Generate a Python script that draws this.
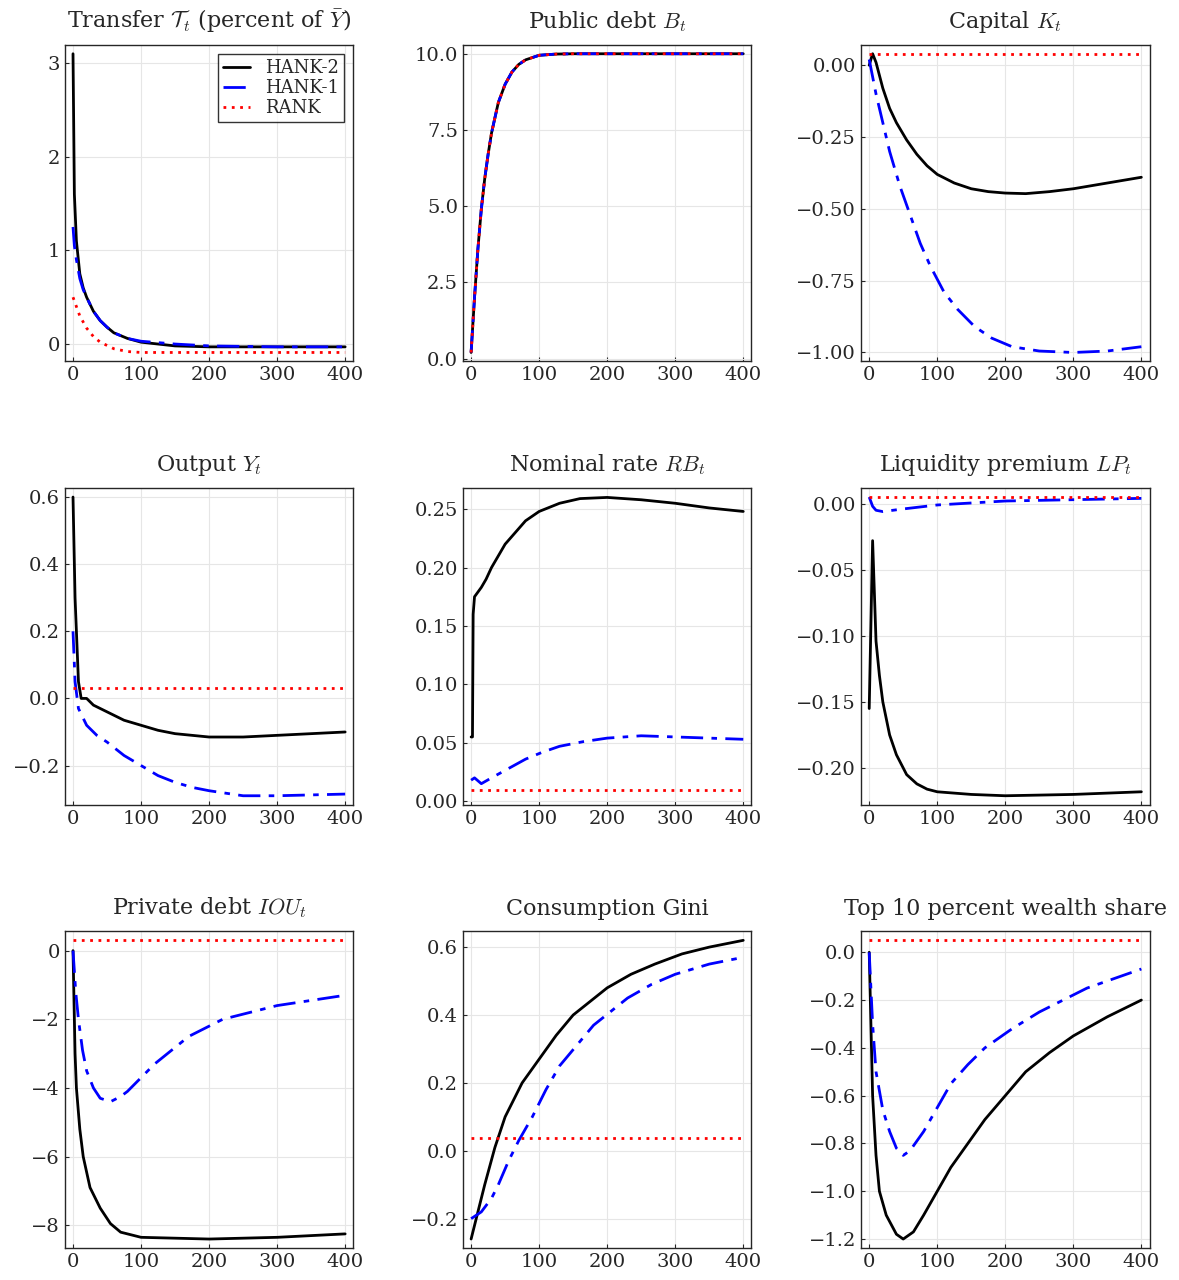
import numpy as np, matplotlib
matplotlib.use("Agg")
import matplotlib.pyplot as plt, seaborn as sns

sns.set_style("ticks")
plt.rcParams['font.family'] = ['DejaVu Serif']
plt.rcParams['mathtext.fontset'] = 'cm'
plt.rcParams['font.size'] = 13

# ---- data ----
tr_t2 = [0,2,5,10,15,20,30,40,50,60,80,100,150,200,300,400]
tr_h2 = [3.1,1.6,1.1,0.75,0.6,0.5,0.35,0.25,0.18,0.12,0.06,0.02,-0.02,-0.03,-0.03,-0.03]
tr_t1 = [0,2,5,10,15,20,30,40,50,60,80,100,150,200,300,400]
tr_h1 = [1.25,1.05,0.9,0.7,0.58,0.5,0.35,0.25,0.18,0.12,0.06,0.03,0.0,-0.02,-0.03,-0.03]
tr_tr = [0,5,10,20,30,40,60,80,100,150,200,300,400]
tr_r  = [0.5,0.4,0.3,0.17,0.08,0.02,-0.05,-0.08,-0.09,-0.09,-0.09,-0.09,-0.09]

bd_t = [0,5,10,15,20,25,30,40,50,60,70,80,100,125,150,200,300,400]
bd_v = [0.2,2.0,3.6,4.9,5.9,6.7,7.4,8.4,9.0,9.4,9.65,9.8,9.95,9.99,10.0,10.0,10.0,10.0]

k_t2 = [0,5,10,20,30,40,55,70,85,100,125,150,175,200,230,265,300,350,400]
k_h2 = [0.0,0.04,0.01,-0.08,-0.15,-0.2,-0.26,-0.31,-0.35,-0.38,-0.41,-0.43,-0.44,-0.445,-0.447,-0.44,-0.43,-0.41,-0.39]
k_t1 = [0,10,20,30,45,60,75,90,110,130,155,180,210,250,300,350,400]
k_h1 = [0.02,-0.1,-0.2,-0.3,-0.42,-0.52,-0.62,-0.7,-0.79,-0.85,-0.91,-0.95,-0.98,-0.995,-1.0,-0.995,-0.98]
k_r = [0.04]*2

y_t2 = [0,3,8,12,20,30,50,75,100,125,150,200,250,300,400]
y_h2 = [0.6,0.3,0.05,0.0,0.0,-0.02,-0.04,-0.065,-0.08,-0.095,-0.105,-0.115,-0.115,-0.11,-0.1]
y_t1 = [0,3,8,20,35,50,75,100,125,150,175,200,250,300,400]
y_h1 = [0.2,0.05,-0.03,-0.08,-0.11,-0.13,-0.17,-0.2,-0.23,-0.25,-0.265,-0.275,-0.29,-0.29,-0.285]
y_r = [0.03]*2

rb_t2 = [0,2,3,5,15,22,30,40,50,65,80,100,130,160,200,250,300,350,400]
rb_h2 = [0.055,0.055,0.16,0.175,0.183,0.19,0.2,0.21,0.22,0.23,0.24,0.248,0.255,0.259,0.26,0.258,0.255,0.251,0.248]
rb_t1 = [0,5,15,30,55,80,105,130,165,200,250,300,400]
rb_h1 = [0.018,0.02,0.015,0.02,0.028,0.036,0.042,0.047,0.051,0.054,0.056,0.055,0.053]
rb_r = [0.01]*2

lp_t2 = [0,5,10,15,20,30,40,55,70,85,100,150,200,300,400]
lp_h2 = [-0.155,-0.028,-0.104,-0.13,-0.15,-0.175,-0.19,-0.205,-0.212,-0.216,-0.218,-0.22,-0.221,-0.22,-0.218]
lp_t1 = [0,5,10,20,50,100,200,300,400]
lp_h1 = [0.005,-0.002,-0.005,-0.006,-0.004,-0.001,0.002,0.003,0.004]
lp_r = [0.005]*2

pd_t2 = [0,3,5,10,15,25,40,55,70,100,200,300,400]
pd_h2 = [0.0,-3.0,-4.0,-5.2,-6.0,-6.9,-7.5,-7.95,-8.2,-8.35,-8.4,-8.35,-8.25]
pd_t1 = [0,4,8,14,20,30,40,55,70,80,100,120,145,170,220,260,300,350,400]
pd_h1 = [0.0,-1.2,-2.0,-2.9,-3.5,-4.0,-4.3,-4.4,-4.25,-4.1,-3.7,-3.3,-2.9,-2.5,-2.0,-1.8,-1.6,-1.45,-1.3]
pd_r = [0.3]*2

g_t2 = [0,10,20,35,50,75,100,125,150,175,200,235,270,310,350,400]
g_h2 = [-0.26,-0.18,-0.1,0.01,0.1,0.2,0.27,0.34,0.4,0.44,0.48,0.52,0.55,0.58,0.6,0.62]
g_t1 = [0,15,30,40,55,70,90,110,130,155,180,205,230,265,300,350,400]
g_h1 = [-0.2,-0.18,-0.14,-0.1,-0.03,0.03,0.1,0.18,0.25,0.31,0.37,0.41,0.45,0.49,0.52,0.55,0.57]
g_r = [0.037]*2

w_t2 = [0,5,10,15,25,40,50,65,80,100,120,145,170,200,230,265,300,350,400]
w_h2 = [0.0,-0.6,-0.85,-1.0,-1.1,-1.18,-1.2,-1.17,-1.1,-1.0,-0.9,-0.8,-0.7,-0.6,-0.5,-0.42,-0.35,-0.27,-0.2]
w_t1 = [0,5,10,20,30,40,50,60,80,100,120,145,170,210,250,285,320,360,400]
w_h1 = [0.0,-0.3,-0.5,-0.66,-0.75,-0.82,-0.85,-0.83,-0.75,-0.65,-0.55,-0.47,-0.4,-0.32,-0.25,-0.2,-0.15,-0.11,-0.07]
w_r = [0.05]*2

r_t = [0,400]

panels = [
 (r"Transfer $\mathcal{T}_t$ (percent of $\bar{Y}$)", (tr_t2,tr_h2),(tr_t1,tr_h1),(tr_tr,tr_r),[0,1,2,3],["0","1","2","3"]),
 (r"Public debt $B_t$", (bd_t,bd_v),(bd_t,bd_v),(bd_t,bd_v),[0,2.5,5,7.5,10],["0.0","2.5","5.0","7.5","10.0"]),
 (r"Capital $K_t$", (k_t2,k_h2),(k_t1,k_h1),(r_t,k_r),[0,-0.25,-0.5,-0.75,-1.0],["0.00","−0.25","−0.50","−0.75","−1.00"]),
 (r"Output $Y_t$", (y_t2,y_h2),(y_t1,y_h1),(r_t,y_r),[0.6,0.4,0.2,0,-0.2],["0.6","0.4","0.2","0.0","−0.2"]),
 (r"Nominal rate $RB_t$", (rb_t2,rb_h2),(rb_t1,rb_h1),(r_t,rb_r),[0,0.05,0.1,0.15,0.2,0.25],["0.00","0.05","0.10","0.15","0.20","0.25"]),
 (r"Liquidity premium $LP_t$", (lp_t2,lp_h2),(lp_t1,lp_h1),(r_t,lp_r),[0,-0.05,-0.1,-0.15,-0.2],["0.00","−0.05","−0.10","−0.15","−0.20"]),
 (r"Private debt $IOU_t$", (pd_t2,pd_h2),(pd_t1,pd_h1),(r_t,pd_r),[0,-2,-4,-6,-8],["0","−2","−4","−6","−8"]),
 (r"Consumption Gini", (g_t2,g_h2),(g_t1,g_h1),(r_t,g_r),[-0.2,0,0.2,0.4,0.6],["−0.2","0.0","0.2","0.4","0.6"]),
 (r"Top 10 percent wealth share", (w_t2,w_h2),(w_t1,w_h1),(r_t,w_r),[0,-0.2,-0.4,-0.6,-0.8,-1.0,-1.2],["0.0","−0.2","−0.4","−0.6","−0.8","−1.0","−1.2"]),
]

fig, axes = plt.subplots(3,3,figsize=(11.79,12.8),dpi=100)
for ax,(title,h2,h1,r,yt,yl) in zip(axes.flat,panels):
    sns.lineplot(x=h2[0],y=h2[1],ax=ax,color="black",lw=2,label="HANK-2")
    sns.lineplot(x=h1[0],y=h1[1],ax=ax,color="blue",lw=2,label="HANK-1")
    ax.lines[-1].set_linestyle((0,(8,3,2,3)))
    sns.lineplot(x=r[0],y=r[1],ax=ax,color="red",lw=2,label="RANK")
    ax.lines[-1].set_linestyle((0,(1,2)))
    ax.set_title(title,fontsize=16,pad=12)
    ax.set_xticks([0,100,200,300,400])
    ax.grid(True,color="#e6e6e6",lw=0.8)
    for s in ax.spines.values(): s.set_visible(True); s.set_linewidth(1)
    ax.tick_params(labelsize=14, direction="in", length=3)
    ax.set_xlim(-12,412)
    ax.margins(y=0.03)
    ax.get_legend().remove()
    ax.set_yticks(yt); ax.set_yticklabels(yl)
axes[1,1].set_ylim(-0.003,0.268)
axes[0,0].legend(loc="upper right",fontsize=13,frameon=True,fancybox=False,edgecolor="black",handlelength=1.5,borderpad=0.3,labelspacing=0.1)
fig.subplots_adjust(left=0.055,right=0.975,top=0.965,bottom=0.025,wspace=0.38,hspace=0.4)
fig.savefig("out.png")
